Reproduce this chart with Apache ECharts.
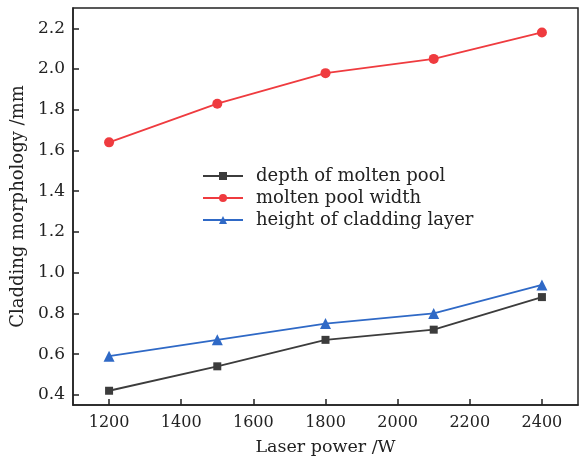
<!DOCTYPE html>
<html>
<head>
<meta charset="utf-8">
<script src="https://cdn.jsdelivr.net/npm/echarts@6/dist/echarts.min.js"></script>
<style>
  html, body { margin: 0; padding: 0; background: #fff; }
  #chart { width: 580px; height: 461px; }
</style>
</head>
<body>
<div id="chart"></div>
<script>
// laser power (W)
var power = [1200, 1500, 1800, 2100, 2400];
var depthPool = [0.42, 0.54, 0.67, 0.72, 0.88];
var widthPool = [1.64, 1.83, 1.98, 2.05, 2.18];
var heightLayer = [0.59, 0.67, 0.75, 0.80, 0.94];
var xTicks = [1200, 1400, 1600, 1800, 2000, 2200, 2400];
var yTicks = [0.4, 0.6, 0.8, 1.0, 1.2, 1.4, 1.6, 1.8, 2.0, 2.2];

var font = 'DejaVu Serif';

function pairs(ys){
    var out = [];
    for(var i = 0; i < power.length; i++){
        out.push([power[i], ys[i]]);
    }
    return out;
}

var chart = echarts.init(document.getElementById('chart'));
var option = {
    backgroundColor: '#fff',
    animation: false,
    grid: {
        left: 73, right: 2, top: 8, bottom: 48,
        show: true, borderColor: '#222', borderWidth: 1.5
    },
    legend: {
        orient: 'vertical',
        left: 197, top: 162,
        itemWidth: 40, itemHeight: 10, itemGap: 4,
        textStyle: { fontFamily: font, fontSize: 18, color: '#222', padding: [0, 0, 0, 8] },
        data: ['depth of molten pool', 'molten pool width', 'height of cladding layer']
    },
    xAxis: {
        type: 'value',
        min: 1100, max: 2500,
        name: 'Laser power /W',
        nameLocation: 'middle',
        nameGap: 33,
        nameTextStyle: { fontFamily: font, fontSize: 17.5, color: '#222' },
        axisLine: { lineStyle: { color: '#222', width: 1.5 } },
        axisTick: { inside: true, length: 6, customValues: xTicks, lineStyle: { color: '#222', width: 1.5 } },
        axisLabel: {
            customValues: xTicks, fontFamily: font, fontSize: 16, color: '#222', margin: 10,
            formatter: function(v){ return String(v); }
        },
        splitLine: { show: false }
    },
    yAxis: {
        type: 'value',
        min: 0.35, max: 2.3,
        name: 'Cladding morphology /mm',
        nameLocation: 'middle',
        nameGap: 43,
        nameTextStyle: { fontFamily: font, fontSize: 18, color: '#222' },
        axisLine: { lineStyle: { color: '#222', width: 1.5 } },
        axisTick: { inside: true, length: 6, customValues: yTicks, lineStyle: { color: '#222', width: 1.5 } },
        axisLabel: {
            customValues: yTicks, fontFamily: font, fontSize: 17, color: '#222', margin: 8,
            formatter: function(v){ return v.toFixed(1); }
        },
        splitLine: { show: false }
    },
    series: [
        {
            name: 'depth of molten pool', type: 'line',
            data: pairs(depthPool),
            symbol: 'rect', symbolSize: 8,
            itemStyle: { color: '#3c3c3c' },
            lineStyle: { color: '#3c3c3c', width: 1.8 }
        },
        {
            name: 'molten pool width', type: 'line',
            data: pairs(widthPool),
            symbol: 'circle', symbolSize: 10,
            itemStyle: { color: '#ef3b3f' },
            lineStyle: { color: '#ef3b3f', width: 1.8 }
        },
        {
            name: 'height of cladding layer', type: 'line',
            data: pairs(heightLayer),
            symbol: 'triangle', symbolSize: 11,
            itemStyle: { color: '#2f69c6' },
            lineStyle: { color: '#2f69c6', width: 1.8 }
        }
    ]
};
chart.setOption(option);
</script>
</body>
</html>
